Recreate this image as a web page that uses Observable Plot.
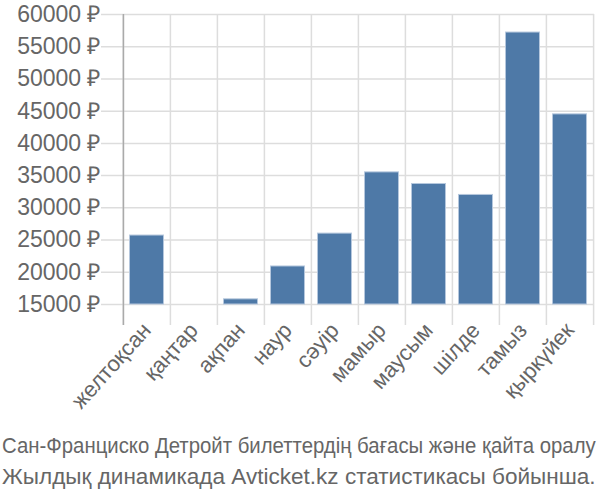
<!DOCTYPE html>
<html><head><meta charset="utf-8">
<script src="https://cdn.jsdelivr.net/npm/d3@7"></script>
<script src="https://cdn.jsdelivr.net/npm/@observablehq/plot@0.6"></script>
<style>
body{margin:0;background:#fff;}
#chart{width:600px;height:500px;position:relative;}
</style></head>
<body><div id="chart"></div>
<script>
const months = ["желтоқсан","қаңтар","ақпан","наур","сәуір","мамыр","маусым","шілде","тамыз","қыркүйек"];
const prices = [25700, null, 15800, 20900, 26000, 35500, 33700, 32000, 57200, 44500];
const yTicks = [15000,20000,25000,30000,35000,40000,45000,50000,55000,60000];
const captionLines = ["Сан-Франциско Детройт билеттердің бағасы және қайта оралу","Жылдық динамикада Avticket.kz статистикасы бойынша."];

const data = months.map((m,i)=>({month:m, price:prices[i]}));
const W = 600, mL = 122, mR = 6;
const half = (W - mL - mR) / months.length / 2;

const plot = Plot.plot({
  width: W, height: 425,
  marginLeft: mL, marginRight: mR, marginTop: 14, marginBottom: 121,
  style: {fontFamily: "'Liberation Sans', Arial, sans-serif", fontSize: "20px", color: "#666"},
  x: {domain: months, padding: 0, label: null},
  y: {domain: [15000, 60000], label: null},
  marks: [
    Plot.gridY(yTicks, {stroke: "#ddd", strokeOpacity: 1, strokeWidth: 1.5, insetLeft: -21}),
    Plot.ruleX(months, {x: d=>d, dx: -half, y1: 60000, y2: 15000, insetBottom: -21, stroke: "#ddd", strokeWidth: 1.5}),
    Plot.ruleX(months.slice(-1), {x: d=>d, dx: half, y1: 60000, y2: 15000, insetBottom: -21, stroke: "#ddd", strokeWidth: 1.5}),
    Plot.barY(data.filter(d=>d.price!=null), {x: "month", y1: 15000, y2: "price", fill: "#4e79a7", stroke: "#b5c7dd", strokeWidth: 1, insetLeft: 6.5, insetRight: 6.5}),
    Plot.ruleX(months.slice(0,1), {x: d=>d, dx: -half, y1: 60000, y2: 15000, insetBottom: -21, stroke: "#aaa", strokeWidth: 1.5}),
    Plot.axisY(yTicks, {tickSize: 0, tickPadding: 22, tickFormat: d => d + " ₽", fill: "#666", fontSize: 23, label: null}),
    Plot.axisX({tickSize: 0, tickPadding: 22, tickRotate: -48, fill: "#666", fontSize: 22, label: null})
  ]
});
const el = document.getElementById("chart");
el.appendChild(plot);

const svgNS = "http://www.w3.org/2000/svg";
const cap = document.createElementNS(svgNS, "svg");
cap.setAttribute("width", 600);
cap.setAttribute("height", 75);
cap.style.display = "block";
el.appendChild(cap);
captionLines.forEach((t, i) => {
  const tx = document.createElementNS(svgNS, "text");
  tx.setAttribute("x", 0);
  tx.setAttribute("y", 0);
  tx.setAttribute("fill", "#666");
  tx.setAttribute("font-family", "'Liberation Sans', Arial, sans-serif");
  tx.setAttribute("font-size", 22);
  tx.textContent = t;
  cap.appendChild(tx);
  const len = tx.getComputedTextLength();
  const s = 594 / len;
  tx.setAttribute("transform", `translate(2,${28 + i * 31}) scale(${s},1)`);
});
</script></body></html>
